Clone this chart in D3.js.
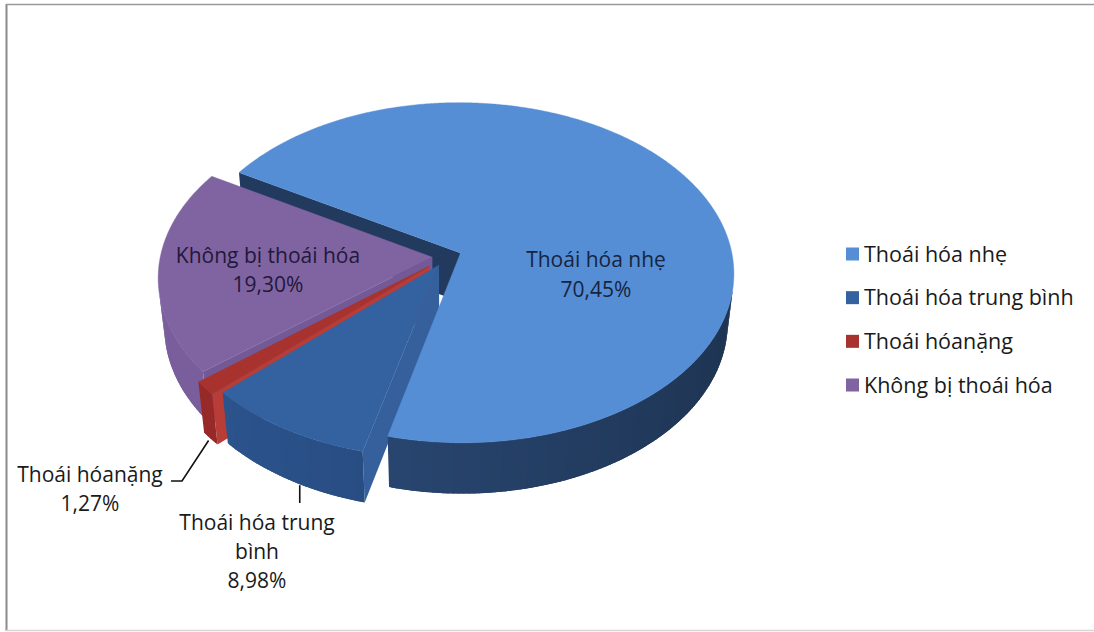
<!DOCTYPE html>
<html>
<head>
<meta charset="utf-8">
<script src="https://cdn.jsdelivr.net/npm/d3@7"></script>
<style>
  html, body { margin: 0; padding: 0; background: #ffffff; }
  svg { display: block; }
</style>
</head>
<body>
<svg id="chart" width="1094" height="632"></svg>
<script>
// ---------------- data ----------------
const categories = ["Thoái hóa nhẹ", "Thoái hóa trung bình", "Thoái hóanặng", "Không bị thoái hóa"];
const values = [70.45, 8.98, 1.27, 19.30];
const valueLabels = ["70,45%", "8,98%", "1,27%", "19,30%"];
const labelLines = [["Thoái hóa nhẹ"], ["Thoái hóa trung", "bình"], ["Thoái hóanặng"], ["Không bị thoái hóa"]];

// ---------------- styles ----------------
const topColors  = ["#558ed5", "#3462a0", "#a8332e", "#8064a2"];
const wallDark   = ["#1e3452", "#1f3f6c", "#862323", "#674f8a"];
const wallLight  = ["#2d4e7e", "#2c548e", "#982a29", "#7a5e9c"];
const faceColors = ["#213a5e", "#36609c", "#b83d36", "#735a97"];
const textColor  = "#1a1a1a";

// ---------------- layout ----------------
const W = 1094, H = 632;
const cx = 447, cy = 256.5;           // screen position of pie axis
const focal = 1836, dist = 6.75;      // perspective
const tilt = 38.3 * Math.PI / 180;    // elevation
const depth = 0.235;                  // pie thickness (radius = 1)
const explodeBy = [0.054, 0.058, 0.085, 0.054];
const startDeg = -59.5;
const fontFamily = "'Open Sans', 'Noto Sans', sans-serif";

const svg = d3.select("#chart");
svg.append("rect").attr("width", W).attr("height", H).attr("fill", "#ffffff");

const cs = Math.cos(tilt), sn = Math.sin(tilt);
function proj(x, h, z) {
  const yp = h * cs + z * sn;
  const zp = -h * sn + z * cs;
  const k = focal / (dist + zp);
  return [cx + x * k, cy - yp * k, zp];
}
const cam = [0, dist * sn, -dist * cs];

const pie = d3.pie().sort(null).value(d => d)
  .startAngle(startDeg * Math.PI / 180)
  .endAngle(startDeg * Math.PI / 180 + 2 * Math.PI);
const arcs = pie(values);

const faces = [];
const tops = [];
const STEP = Math.PI / 180;

arcs.forEach((a, i) => {
  const mid = (a.startAngle + a.endAngle) / 2;
  const e = explodeBy[i];
  const dx = e * Math.sin(mid), dz = e * Math.cos(mid);
  const pt = (r, t, h) => proj(dx + r * Math.sin(t), h, dz + r * Math.cos(t));
  a.pt = pt;
  a.mid = mid;

  // outer wall segments (slightly overlapping to avoid seams)
  const span = a.endAngle - a.startAngle;
  const n = Math.max(2, Math.ceil(span / STEP));
  for (let j = 0; j < n; j++) {
    const t0 = a.startAngle + span * j / n;
    const t1 = a.startAngle + span * (j + 1) / n;
    const tm = (t0 + t1) / 2;
    const nx = Math.sin(tm), nz = Math.cos(tm);
    const px = dx + nx, pz = dz + nz;
    const vis = nx * (cam[0] - px) + nz * (cam[2] - pz);
    if (vis <= 0) continue;
    const u0 = Math.max(a.startAngle, t0 - STEP * 0.6);
    const u1 = Math.min(a.endAngle, t1 + STEP * 0.6);
    const p = [pt(1, u0, 0), pt(1, u1, 0), pt(1, u1, -depth), pt(1, u0, -depth)];
    const shade = Math.max(0, Math.min(1, (1 - Math.sin(tm)) / 2 * 1.1));
    const col = d3.interpolateRgb(wallDark[i], wallLight[i])(shade);
    faces.push({ pts: p, fill: col, depth: pt(1, tm, -depth / 2)[2] });
  }

  // cut faces
  [[a.startAngle, [-Math.cos(a.startAngle), Math.sin(a.startAngle)]],
   [a.endAngle, [Math.cos(a.endAngle), -Math.sin(a.endAngle)]]].forEach(([t, nrm]) => {
    const px = dx + 0.5 * Math.sin(t), pz = dz + 0.5 * Math.cos(t);
    const vis = nrm[0] * (cam[0] - px) + nrm[1] * (cam[2] - pz);
    if (vis <= 0) return;
    const p = [pt(0, t, 0), pt(1, t, 0), pt(1, t, -depth), pt(0, t, -depth)];
    faces.push({ pts: p, fill: faceColors[i], depth: pt(0.5, t, -depth / 2)[2] });
  });

  // top face
  const tp = [pt(0, 0, 0)];
  const m = Math.max(2, Math.ceil(span / (STEP / 2)));
  for (let j = 0; j <= m; j++) {
    const t = a.startAngle + span * j / m;
    tp.push(pt(1, t, 0));
  }
  tops.push({ pts: tp, fill: topColors[i] });
});

const line = d3.line().x(d => d[0]).y(d => d[1]);
const gPie = svg.append("g");
faces.sort((p, q) => q.depth - p.depth);
gPie.selectAll("path.face").data(faces).join("path")
  .attr("class", "face")
  .attr("d", d => line(d.pts) + "Z")
  .attr("fill", d => d.fill);
gPie.selectAll("path.top").data(tops).join("path")
  .attr("class", "top")
  .attr("d", d => line(d.pts) + "Z")
  .attr("fill", d => d.fill)
  .attr("stroke", d => d.fill)
  .attr("stroke-width", 0.4);

// ---------------- data labels ----------------
// layout: label centre x and first baseline, line gap
const labelPos = [
  { x: 596, y: 267, gap: 30, color: "#15253f" },
  { x: 257, y: 530, gap: 29, color: textColor },
  { x: 90,  y: 482, gap: 29, color: textColor },
  { x: 268, y: 263, gap: 29, color: "#22183a" }
];
const gLab = svg.append("g")
  .attr("font-family", fontFamily)
  .attr("font-size", 21)
  .attr("text-anchor", "middle");
arcs.forEach((a, i) => {
  const lines = labelLines[i].concat([valueLabels[i]]);
  const lp = labelPos[i];
  gLab.append("text")
    .attr("fill", lp.color)
    .selectAll("tspan").data(lines).join("tspan")
    .attr("x", lp.x)
    .attr("y", (d, k) => lp.y + k * lp.gap)
    .text(d => d);
});

// leader lines (from the wall bottom of the slice to its label)
const leader = svg.append("g").attr("stroke", "#111").attr("stroke-width", 1.6).attr("fill", "none");
{
  const a = arcs[2];
  const e = a.pt(1, a.mid, -depth);
  leader.append("path").attr("d", line([[e[0] - 2, e[1] + 2], [182, 481], [171, 481]]));
}
{
  const a = arcs[1];
  const e = a.pt(1, a.mid - 0.045, -depth);
  leader.append("path").attr("d", line([[e[0], e[1] + 1], [e[0], 503]]));
}

// ---------------- legend ----------------
const legend = svg.append("g").attr("font-family", fontFamily).attr("font-size", 21.5);
const legY = d3.scalePoint().domain(categories).range([254, 385]);
categories.forEach((c, i) => {
  legend.append("rect")
    .attr("x", 846).attr("y", legY(c) - 6.5)
    .attr("width", 13).attr("height", 13)
    .attr("fill", topColors[i]);
  legend.append("text")
    .attr("x", 864).attr("y", legY(c))
    .attr("dy", "0.35em")
    .attr("fill", textColor)
    .text(c);
});

// ---------------- frame ----------------
svg.append("line").attr("x1", 6.5).attr("x2", 6.5).attr("y1", 4).attr("y2", 631)
  .attr("stroke", "#8a8a8a").attr("stroke-width", 2);
svg.append("line").attr("x1", 6).attr("x2", W).attr("y1", 4.5).attr("y2", 4.5)
  .attr("stroke", "#9a9a9a").attr("stroke-width", 1.5);
svg.append("line").attr("x1", 6).attr("x2", W).attr("y1", 630.5).attr("y2", 630.5)
  .attr("stroke", "#d6d6d6").attr("stroke-width", 1.5);
</script>
</body>
</html>
